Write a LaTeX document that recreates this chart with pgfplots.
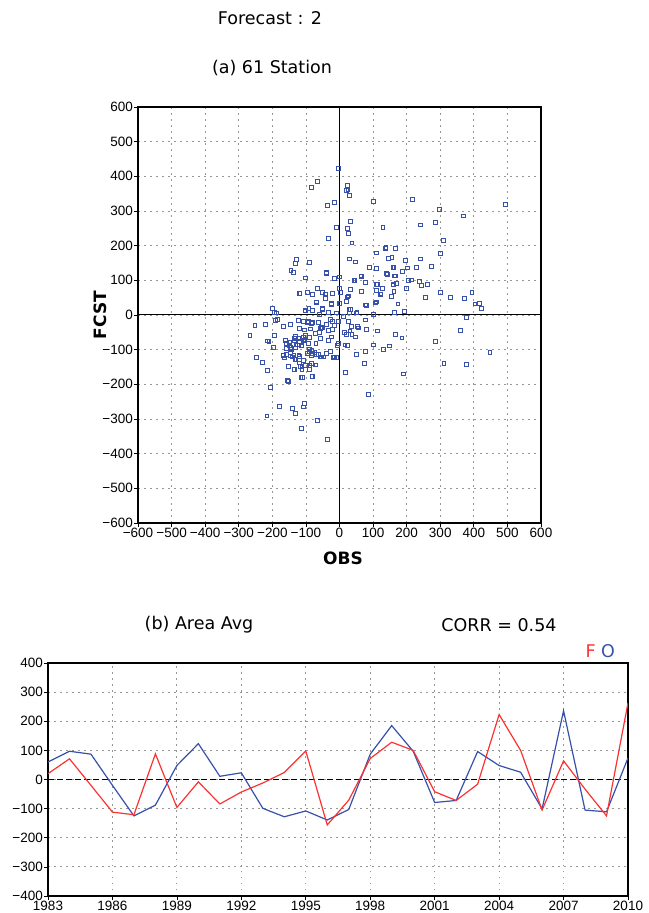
\documentclass[border=0pt]{standalone}
\usepackage{fontspec}
\setmainfont{Liberation Sans}
\newfontfamily\titlefont{DejaVu Sans}
\usepackage{pgfplots}
\usepackage{pgfplotstable}
\pgfplotsset{compat=1.18}
\definecolor{obsblue}{RGB}{55,80,170}
\definecolor{fcred}{RGB}{250,50,50}
\definecolor{gridgray}{RGB}{150,150,150}

\pgfplotstableread{
x y
-4 422
-66 385
-83 367
23 373
25 362
21 360
30 345
-35 316
-15 324
100 328
216 334
495 320
368 286
297 305
285 268
240 260
129 253
-10 253
23 249
33 271
27 235
-32 220
37 208
310 216
300 178
138 194
166 191
109 179
29 162
47 153
156 167
146 164
196 157
240 162
274 141
230 138
202 136
111 134
89 137
162 137
187 126
142 118
166 113
213 101
206 99
237 97
262 88
244 85
170 91
160 87
114 89
77 94
65 111
46 100
128 76
110 72
200 77
162 69
123 61
155 54
174 32
255 51
300 66
330 51
372 47
394 66
403 32
416 33
423 18
193 11
164 7
102 2
109 38
81 28
52 7
66 68
32 73
23 52
27 55
21 39
33 17
29 6
1 33
3 65
-1 76
-16 105
0 110
-38 122
-90 151
-102 107
-128 161
-132 148
-145 128
-137 124
-118 63
-96 66
-81 59
-67 76
-52 66
-41 61
-20 62
-69 38
-50 19
-32 7
-60 2
-80 13
-91 19
-103 13
-23 31
-10 6
-199 19
-195 7
-188 6
-252 -31
-267 -60
-220 -28
-191 -15
-184 -13
-168 -34
-146 -27
-123 -16
-107 -19
-92 -19
-80 -22
-119 -38
-104 -43
-86 -40
-72 -53
-61 -50
-58 -38
-50 -37
-27 -13
-15 -30
-4 -18
-32 -45
-20 -42
-24 -63
-32 -73
-57 -68
-70 -81
-89 -65
-101 -59
-108 -63
-122 -67
-132 -62
-135 -75
-148 -78
-160 -73
-159 -97
-145 -94
-132 -95
-125 -86
-113 -89
-106 -75
-90 -98
-82 -102
-73 -107
-63 -114
-48 -121
-55 -121
-69 -114
-84 -117
-96 -110
-121 -115
-136 -115
-147 -118
-167 -117
-163 -124
-133 -128
-120 -120
-107 -131
-84 -140
-70 -144
-152 -149
-136 -156
-117 -148
-112 -156
-89 -158
-80 -176
-111 -180
-153 -191
-198 -94
-214 -75
-210 -76
-194 -60
-247 -122
-230 -137
-214 -160
-206 -210
-180 -263
-216 -291
-140 -269
-132 -283
-108 -265
-105 -256
-67 -303
-113 -326
-35 -359
-18 -123
-10 -122
-7 -88
-3 -82
16 -86
24 -88
18 -166
15 -50
21 -56
37 -57
31 -46
36 -33
27 -18
53 -33
56 -37
48 -63
51 -114
77 -14
80 -42
112 -46
101 -86
77 -106
73 -139
86 -228
130 -100
149 -89
166 -55
186 -66
191 -170
285 -77
311 -140
360 -45
377 -7
377 -143
448 -107
11 -4
-157 -83
-150 -88
-144 -100
-135 -67
-130 -85
-120 -76
-112 -88
-103 -71
-93 -81
-90 -105
-80 -110
-58 -121
-39 -110
-26 -105
-16 -121
-157 -113
-146 -108
-140 -121
-130 -129
-120 -138
-112 -150
-102 -145
-88 -145
-71 -144
-135 -158
-115 -179
-82 -177
-154 -189
-96 -21
-83 -24
-64 -21
-53 -36
-40 -27
-20 -19
-5 -19
-39 121
88 137
64 113
76 95
43 99
-119 62
-68 37
-42 49
-51 17
-25 33
0 33
-101 12
28 17
51 6
78 29
107 35
111 89
122 60
139 119
159 138
136 193
163 113
161 88
155 54
}\stations

\pgfplotstableread{
year F O
1983 20 60
1984 71 97
1985 -20 87
1986 -112 -20
1987 -121 -125
1988 88 -88
1989 -96 48
1990 -8 123
1991 -84 11
1992 -43 23
1993 -12 -99
1994 24 -128
1995 98 -108
1996 -156 -139
1997 -71 -103
1998 72 87
1999 128 185
2000 100 97
2001 -42 -79
2002 -72 -72
2003 -16 96
2004 223 48
2005 100 25
2006 -105 -101
2007 64 236
2008 -33 -105
2009 -125 -111
2010 263 74
}\areaavg

\begin{document}
\begin{tikzpicture}
\path[use as bounding box] (0pt,0pt) rectangle (648pt,913pt);
\pgfplotsset{
  every axis/.append style={
    scale only axis,
    axis line style={line width=1.5pt},
    tick align=outside, tick pos=left,
    major tick length=4pt,
    tick style={black, line width=0.7pt},
    grid=major,
    major grid style={gridgray, dash pattern=on 1.5pt off 4.5pt, line width=0.8pt},
    tick label style={font=\fontsize{13.5}{15}\selectfont},
  }
}
% ---------- scatter ----------
\begin{axis}[
  at={(138pt,390pt)}, anchor=south west,
  width=403pt, height=416pt,
  xmin=-600, xmax=600, ymin=-600, ymax=600,
  xtick={-600,-500,-400,-300,-200,-100,0,100,200,300,400,500,600},
  xticklabels={−600,−500,−400,−300,−200,−100,0,100,200,300,400,500,600},
  ytick={-600,-500,-400,-300,-200,-100,0,100,200,300,400,500,600},
  yticklabels={−600,−500,−400,−300,−200,−100,0,100,200,300,400,500,600},
  xticklabel style={inner sep=1pt},
  yticklabel style={inner sep=1pt},
]
\addplot[black, line width=1pt] coordinates {(0,-600) (0,600)};
\addplot[black, line width=1pt] coordinates {(-600,0) (600,0)};
\addplot[only marks, mark=square, mark size=1.9pt, obsblue, mark options={line width=0.8pt, fill=none}] table[x=x, y=y] {\stations};
\end{axis}

% ---------- time series ----------
\begin{axis}[
  at={(48pt,17pt)}, anchor=south west,
  width=580pt, height=233pt,
  xmin=1983, xmax=2010, ymin=-400, ymax=400,
  xtick={1983,1986,1989,1992,1995,1998,2001,2004,2007,2010},
  xticklabels={1983,1986,1989,1992,1995,1998,2001,2004,2007,2010},
  ytick={-400,-300,-200,-100,0,100,200,300,400},
  yticklabels={−400,−300,−200,−100,0,100,200,300,400},
  xticklabel style={inner sep=1pt},
  yticklabel style={inner sep=1pt},
]
\addplot[black, line width=1.1pt, dash pattern=on 6pt off 3pt] coordinates {(1983,0) (2010,0)};
\addplot[obsblue, line width=1.2pt] table[x=year, y=O] {\areaavg};
\addplot[fcred, line width=1.2pt] table[x=year, y=F] {\areaavg};
\end{axis}

% ---------- texts ----------
\node[font=\titlefont\fontsize{17.5}{20}\selectfont] at (270pt,895pt) {Forecast : 2};
\node[font=\titlefont\fontsize{17.5}{20}\selectfont] at (272pt,845pt) {(a) 61 Station};
\node[font=\titlefont\bfseries\fontsize{17}{20}\selectfont, rotate=90] at (100pt,598pt) {FCST};
\node[font=\titlefont\bfseries\fontsize{17}{20}\selectfont] at (343pt,355pt) {OBS};
\node[font=\titlefont\fontsize{17.5}{20}\selectfont] at (199pt,288pt) {(b) Area Avg};
\node[font=\titlefont\fontsize{17.5}{20}\selectfont] at (499pt,288pt) {CORR = 0.54};
\node[font=\titlefont\fontsize{17.5}{20}\selectfont, text=fcred, anchor=east, inner sep=0pt] at (596pt,262pt) {F};
\node[font=\titlefont\fontsize{17.5}{20}\selectfont, text=obsblue, anchor=west, inner sep=0pt] at (601pt,262pt) {O};
\end{tikzpicture}
\end{document}
